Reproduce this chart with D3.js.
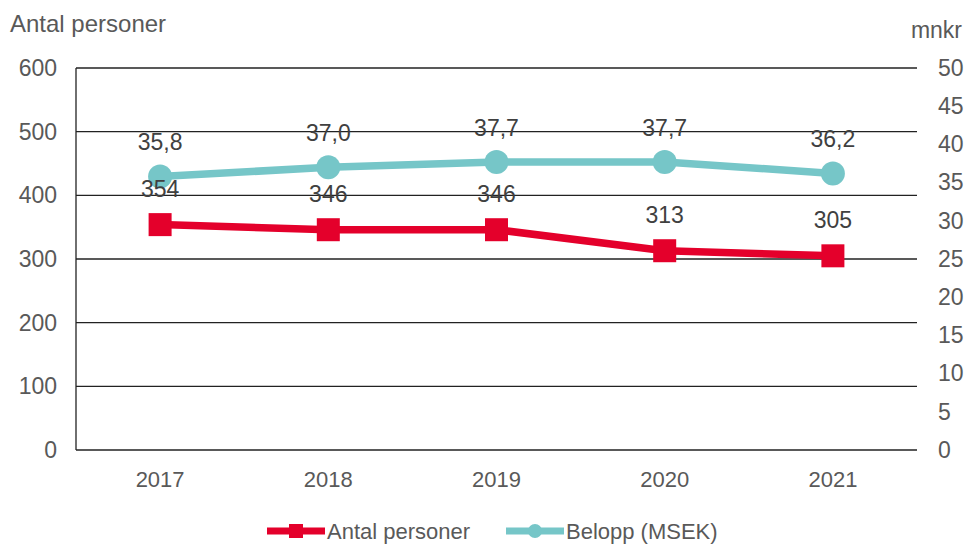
<!DOCTYPE html>
<html>
<head>
<meta charset="utf-8">
<script src="https://cdn.jsdelivr.net/npm/d3@7"></script>
<style>
  body { margin: 0; background: #fff; }
  svg { font-family: "Liberation Sans", Arial, sans-serif; }
</style>
</head>
<body>
<div id="chart"></div>
<script>
// chart data
const years = ["2017", "2018", "2019", "2020", "2021"];
const antalPersoner = [354, 346, 346, 313, 305];
const belopp = [35.8, 37.0, 37.7, 37.7, 36.2];
const leftTicks = [0, 100, 200, 300, 400, 500, 600];
const rightTicks = [0, 5, 10, 15, 20, 25, 30, 35, 40, 45, 50];

const w = 967, h = 544;
const pLeft = 76, pRight = 917, pTop = 68, pBottom = 450;
const red = "#e4002b", teal = "#76c6c8";

const svg = d3.select("#chart").append("svg").attr("width", w).attr("height", h);

const x = d3.scaleBand().domain(years).range([pLeft, pRight]);
const yL = d3.scaleLinear().domain([0, 600]).range([pBottom, pTop]);
const yR = d3.scaleLinear().domain([0, 50]).range([pBottom, pTop]);
const cx = d => x(d) + x.bandwidth() / 2;

// gridlines
svg.append("g").selectAll("line").data(leftTicks).enter().append("line")
    .attr("x1", pLeft).attr("x2", pRight)
    .attr("y1", d => yL(d)).attr("y2", d => yL(d))
    .attr("stroke", "#222").attr("stroke-width", 1.3);
// left axis line
svg.append("line").attr("x1", pLeft).attr("x2", pLeft).attr("y1", pTop).attr("y2", pBottom)
    .attr("stroke", "#222").attr("stroke-width", 1.3);

// axes
const axL = svg.append("g").attr("transform", "translate(" + pLeft + ",0)")
    .call(d3.axisLeft(yL).tickValues(leftTicks).tickSize(0).tickPadding(19));
const axR = svg.append("g").attr("transform", "translate(" + pRight + ",0)")
    .call(d3.axisRight(yR).tickValues(rightTicks).tickSize(0).tickPadding(21));
const axB = svg.append("g").attr("transform", "translate(0," + pBottom + ")")
    .call(d3.axisBottom(x).tickSize(0).tickPadding(21));
[axL, axR].forEach(a => {
    a.select(".domain").remove();
    a.selectAll("text").attr("fill", "#595959").style("font-size", "23px")
        .style("font-family", "Liberation Sans, Arial, sans-serif");
});
axB.select(".domain").remove();
axB.selectAll("text").attr("fill", "#595959").style("font-size", "22px")
    .style("font-family", "Liberation Sans, Arial, sans-serif");

// axis titles
svg.append("text").attr("x", 10).attr("y", 32).text("Antal personer")
    .attr("fill", "#595959").style("font-size", "24px");
svg.append("text").attr("x", 962).attr("y", 38).attr("text-anchor", "end").text("mnkr")
    .attr("fill", "#595959").style("font-size", "23px");

// lines
const lineL = d3.line().x((d, i) => cx(years[i])).y(d => yL(d));
const lineR = d3.line().x((d, i) => cx(years[i])).y(d => yR(d));
svg.append("path").datum(belopp).attr("d", lineR).attr("fill", "none")
    .attr("stroke", teal).attr("stroke-width", 7.5).attr("stroke-linejoin", "round");
svg.append("path").datum(antalPersoner).attr("d", lineL).attr("fill", "none")
    .attr("stroke", red).attr("stroke-width", 7.5).attr("stroke-linejoin", "round");

// markers
svg.selectAll(".dot").data(belopp).enter().append("circle").attr("class", "dot")
    .attr("cx", (d, i) => cx(years[i])).attr("cy", d => yR(d)).attr("r", 12).attr("fill", teal);
svg.selectAll(".sq").data(antalPersoner).enter().append("rect").attr("class", "sq")
    .attr("x", (d, i) => cx(years[i]) - 11.5).attr("y", d => yL(d) - 11.5)
    .attr("width", 23).attr("height", 23).attr("fill", red);

// data labels
const fmt = v => v.toFixed(1).replace(".", ",");
svg.selectAll(".lblR").data(belopp).enter().append("text")
    .attr("x", (d, i) => cx(years[i])).attr("y", d => yR(d) - 26)
    .attr("text-anchor", "middle").attr("fill", "#404040").style("font-size", "23px")
    .text(fmt);
svg.selectAll(".lblL").data(antalPersoner).enter().append("text")
    .attr("x", (d, i) => cx(years[i])).attr("y", d => yL(d) - 28)
    .attr("text-anchor", "middle").attr("fill", "#404040").style("font-size", "23px")
    .text(d => d);

// legend
const legend = [
    { name: "Antal personer", color: red, x: 267, shape: "rect" },
    { name: "Belopp (MSEK)", color: teal, x: 506, shape: "circle" }
];
const ly = 531;
legend.forEach(l => {
    svg.append("line").attr("x1", l.x).attr("x2", l.x + 58).attr("y1", ly).attr("y2", ly)
        .attr("stroke", l.color).attr("stroke-width", 7);
    if (l.shape === "rect") {
        svg.append("rect").attr("x", l.x + 22).attr("y", ly - 7).attr("width", 14).attr("height", 14).attr("fill", l.color);
    } else {
        svg.append("circle").attr("cx", l.x + 29).attr("cy", ly).attr("r", 7).attr("fill", l.color);
    }
    svg.append("text").attr("x", l.x + 60).attr("y", ly + 8).text(l.name)
        .attr("fill", "#595959").style("font-size", "22px");
});
</script>
</body>
</html>
